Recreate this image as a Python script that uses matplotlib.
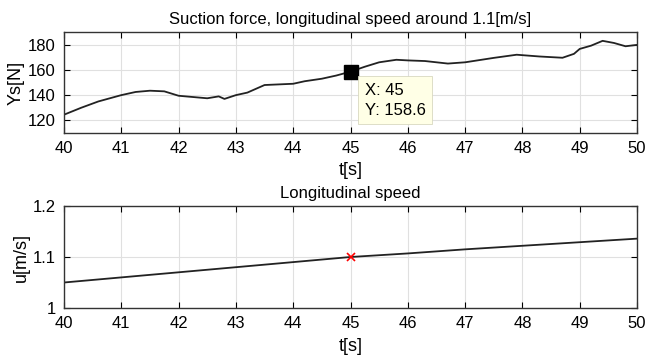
import numpy as np
import matplotlib.pyplot as plt

plt.rcParams['font.family'] = ['Liberation Sans', 'DejaVu Sans']

# suction force samples
t_force = [40.0, 40.3, 40.6, 41.0, 41.25, 41.5, 41.75, 42.0, 42.25, 42.5, 42.7, 42.8,
           43.0, 43.2, 43.5, 43.75, 44.0, 44.2, 44.5, 44.75, 45.0, 45.25, 45.5, 45.8,
           46.0, 46.3, 46.7, 47.0, 47.5, 47.9, 48.3, 48.7, 48.9, 49.0, 49.2, 49.4,
           49.6, 49.8, 50.0]
ys_force = [124.5, 130, 135, 140, 142.5, 143.5, 143, 139.5, 138.5, 137.5, 139, 137,
            140, 142, 148, 148.5, 149, 151, 153, 155.5, 158.6, 162.5, 166, 168,
            167.5, 167, 165, 166, 169.5, 172, 170.6, 169.6, 172.7, 176.6, 179.2, 183,
            181.3, 178.7, 179.8]

# longitudinal speed
t_speed = [40, 41, 42, 43, 44, 45, 46, 47, 48, 49, 50]
u_speed = [1.05, 1.06, 1.07, 1.08, 1.09, 1.10, 1.107, 1.115, 1.122, 1.129, 1.136]

tip_t = 45
tip_ys = 158.6
tip_u = 1.1

fig = plt.figure(figsize=(6.45, 3.58), dpi=100)
ax1 = fig.add_axes([64/645, 1-133/358, 573/645, 101/358])
ax2 = fig.add_axes([64/645, 1-308/358, 573/645, 102/358])

ax1.plot(t_force, ys_force, color='#222222', lw=1.3)
ax1.plot([tip_t], [tip_ys], 's', color='black', ms=10)
ax1.text(tip_t + 0.25, tip_ys - 9, "X: 45\nY: 158.6", fontsize=12, va='top', ha='left',
         linespacing=1.4,
         bbox=dict(boxstyle='square,pad=0.4', facecolor='#ffffe6', edgecolor='#d8d8c0', lw=0.6))
ax1.set_xlim(40, 50)
ax1.set_ylim(110, 190)
ax1.set_yticks([120, 140, 160, 180])
ax1.set_title("Suction force, longitudinal speed around 1.1[m/s]", fontsize=12, pad=6)
ax1.set_ylabel("Ys[N]", fontsize=13, labelpad=2)
ax1.set_xlabel("t[s]", fontsize=13, labelpad=4)

ax2.plot(t_speed, u_speed, color='#222222', lw=1.3)
ax2.plot([tip_t], [tip_u], 'x', color='red', ms=6, mew=1.2)
ax2.set_xlim(40, 50)
ax2.set_ylim(1, 1.2)
ax2.set_yticks([1, 1.1, 1.2])
ax2.set_yticklabels(["1", "1.1", "1.2"])
ax2.set_title("Longitudinal speed", fontsize=12, pad=6)
ax2.set_ylabel("u[m/s]", fontsize=13, labelpad=2)
ax2.set_xlabel("t[s]", fontsize=13, labelpad=5)

for ax in (ax1, ax2):
    ax.set_xticks(np.arange(40, 51, 1))
    ax.grid(True, color='#e0e0e0', lw=0.8)
    ax.tick_params(direction='in', top=True, right=True, labelsize=12, length=4, pad=6)
    for s in ax.spines.values():
        s.set_color('#333333')
        s.set_linewidth(1.0)

fig.savefig("out.png", dpi=100)
